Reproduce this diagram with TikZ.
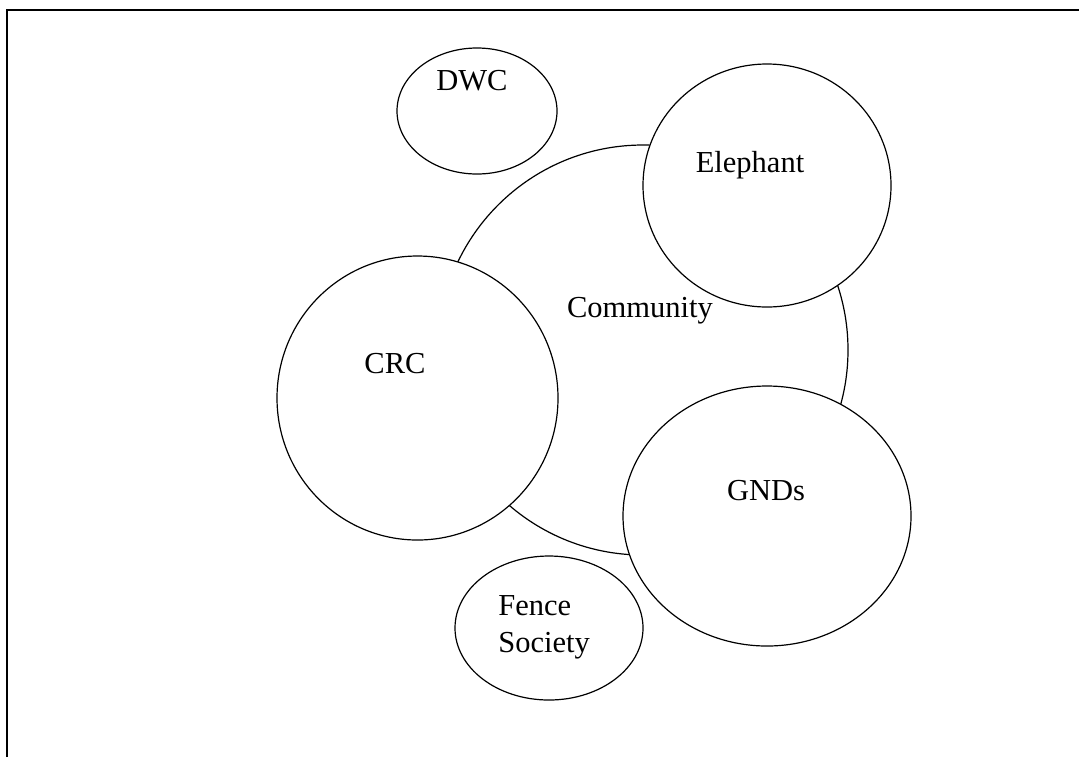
\documentclass[tikz,border=0pt]{standalone}
\usepackage{fontspec}
\setmainfont{Liberation Serif}
\usetikzlibrary{shapes.geometric}

\begin{document}
\begin{tikzpicture}[x=0.5pt,y=-0.5pt,
    blob/.style={ellipse,draw,fill=white,line width=0.6pt,inner sep=0pt},
    word/.style={inner sep=0pt,anchor=base,font=\fontsize{15.25}{18.5}\selectfont}]
    \useasboundingbox (0,0) rectangle (1079,757);
    \draw[line width=0.8pt] (7,757) -- (7,10) -- (1079,10);
    \node[blob,minimum width=205pt,minimum height=205pt]     (comm)  at (643,350)   {};
    \node[blob,minimum width=80pt,minimum height=63pt]       (dwc)   at (477,111)   {};
    \node[blob,minimum width=124pt,minimum height=121.5pt]   (eleph) at (767,185.5) {};
    \node[blob,minimum width=140.5pt,minimum height=142pt]   (crc)   at (417.5,398) {};
    \node[blob,minimum width=144pt,minimum height=130pt]     (gnds)  at (767,516)   {};
    \node[blob,minimum width=94pt,minimum height=72pt]       (fence) at (549,628)   {};
    \node[word] (comm-t)  at (640,317) {Community};
    \node[word] (dwc-t)   at (472,90)  {DWC};
    \node[word] (eleph-t) at (750,172) {Elephant};
    \node[word] (crc-t)   at (395,373) {CRC};
    \node[word] (gnds-t)  at (766,500) {GNDs};
    \node[word,anchor=north west,align=left] (fence-t) at (498,595) {Fence\\Society};
\end{tikzpicture}
\end{document}
